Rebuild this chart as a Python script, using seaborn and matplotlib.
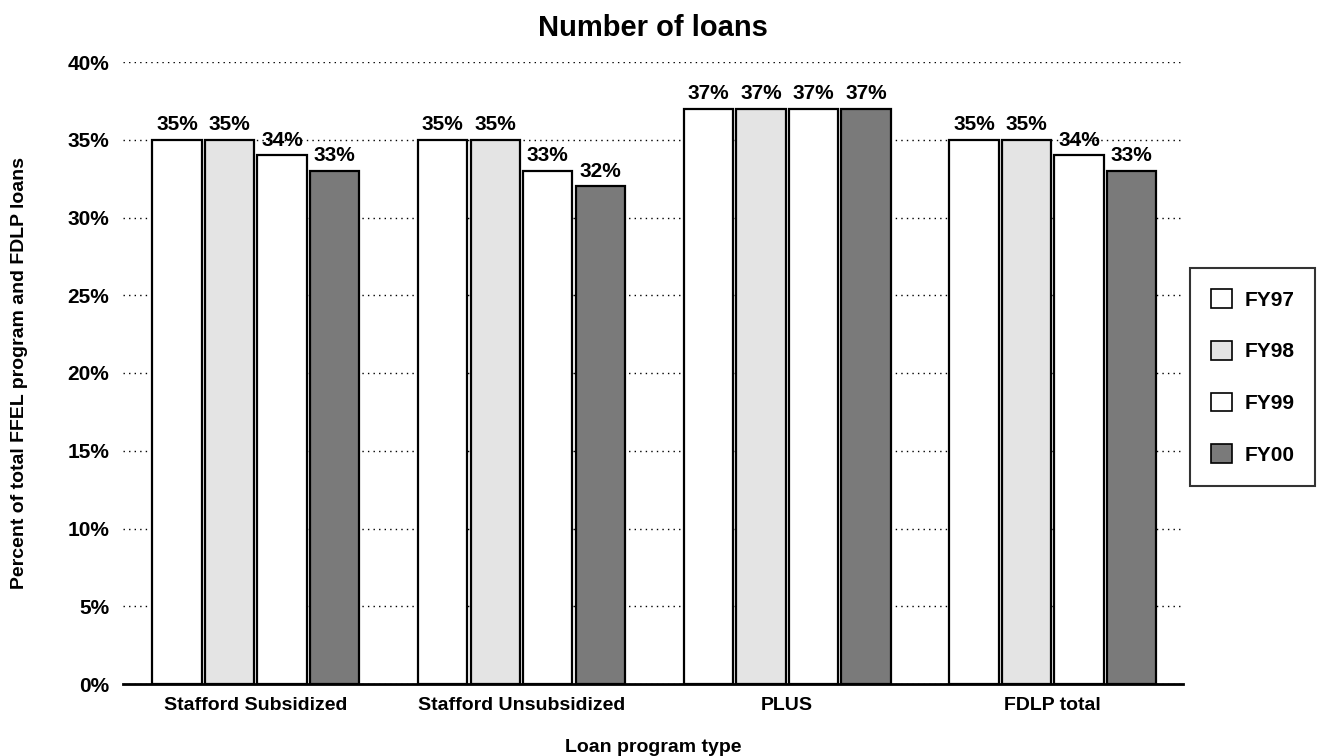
import pandas as pd
import matplotlib.pyplot as plt
import seaborn as sns
from matplotlib.patches import Patch

# Chart data
programs = ["Stafford Subsidized", "Stafford Unsubsidized", "PLUS", "FDLP total"]
years = ["FY97", "FY98", "FY99", "FY00"]
fy97 = [35, 35, 37, 35]
fy98 = [35, 35, 37, 35]
fy99 = [34, 33, 37, 34]
fy00 = [33, 32, 37, 33]
yticks = [0, 5, 10, 15, 20, 25, 30, 35, 40]

colors = {"FY97": "#ffffff", "FY98": "#e4e4e4", "FY99": "#ffffff", "FY00": "#7a7a7a"}

df = pd.DataFrame({
    "program": programs * 4,
    "year": [y for y in years for _ in programs],
    "pct": fy97 + fy98 + fy99 + fy00,
})

sns.set_style("white")
plt.rcParams["font.family"] = ["Liberation Sans Narrow", "DejaVu Sans Condensed", "Liberation Sans", "DejaVu Sans"]
plt.rcParams["font.weight"] = "bold"
plt.rcParams["text.color"] = "black"
plt.rcParams["axes.labelcolor"] = "black"
plt.rcParams["xtick.color"] = "black"
plt.rcParams["ytick.color"] = "black"

fig = plt.figure(figsize=(13.19, 7.56), dpi=100)
ax = fig.add_axes([123 / 1319, 72 / 756, (1183 - 123) / 1319, (684 - 62) / 756])

sns.barplot(
    data=df, x="program", y="pct", hue="year", order=programs, hue_order=years,
    palette=colors, width=0.79, gap=0.06, edgecolor="black", linewidth=1.6,
    legend=False, ax=ax,
)

for cont in ax.containers:
    ax.bar_label(cont, labels=[f"{v:.0f}%" for v in cont.datavalues],
                 padding=4, fontsize=15, fontweight="bold", color="black")

ax.set_ylim(0, 40)
ax.set_xlim(-0.50, 3.49)
ax.set_yticks(yticks)
ax.set_yticklabels([f"{t}%" for t in yticks], fontsize=15, fontweight="bold")
ax.tick_params(axis="y", length=0, pad=10)
ax.tick_params(axis="x", length=0, pad=9, labelsize=14)
for lbl in ax.get_xticklabels():
    lbl.set_fontweight("bold")
ax.yaxis.grid(True, linestyle=(0, (1, 3)), color="black", linewidth=1)
ax.set_axisbelow(True)
for s in ["left", "top", "right"]:
    ax.spines[s].set_visible(False)
ax.spines["bottom"].set_linewidth(2)
ax.spines["bottom"].set_color("black")

ax.set_xlabel("Loan program type", fontsize=14, fontweight="bold", labelpad=18)
ax.set_ylabel("Percent of total FFEL program and FDLP loans", fontsize=14,
              fontweight="bold", labelpad=28)
ax.set_title("Number of loans", fontsize=21, fontweight="bold", pad=19)

handles = [Patch(facecolor=colors[y], edgecolor="black", linewidth=1.2, label=y) for y in years]
leg = fig.legend(handles=handles, loc="center left", bbox_to_anchor=(1180 / 1319, 1 - 377 / 756),
                 frameon=True, fancybox=False, edgecolor="black", fontsize=15,
                 labelspacing=1.5, handlelength=1.0, handleheight=1.0,
                 borderpad=1.0, handletextpad=0.6)
leg.get_frame().set_linewidth(1.5)
for t in leg.get_texts():
    t.set_fontweight("bold")

fig.savefig("out.png", dpi=100, facecolor="white")
